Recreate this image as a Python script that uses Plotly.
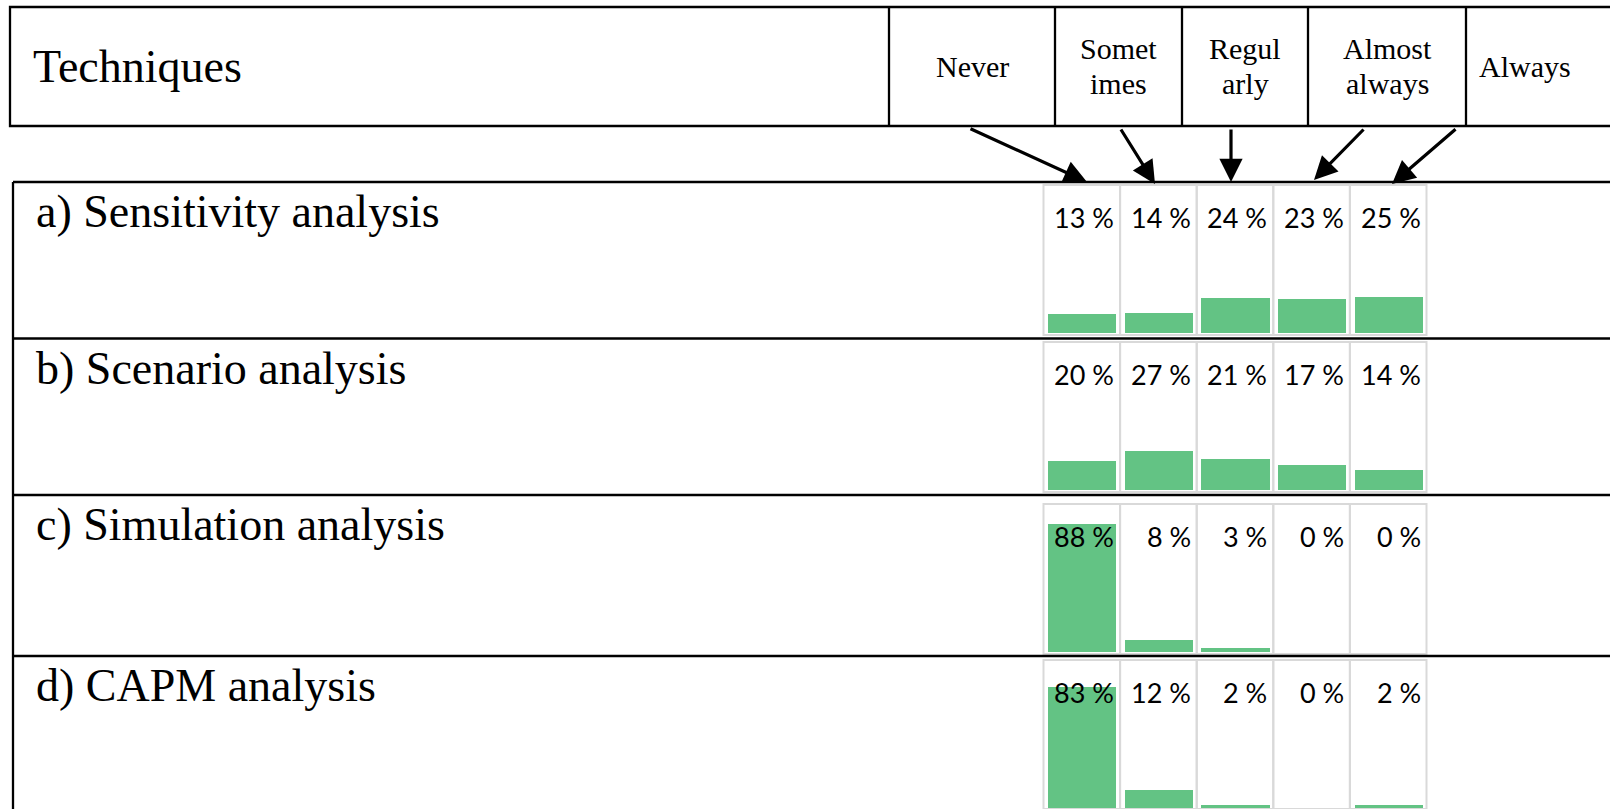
import plotly.graph_objects as go

# ---- data -------------------------------------------------------------
techniques = [
    "a) Sensitivity analysis",
    "b) Scenario analysis",
    "c) Simulation analysis",
    "d) CAPM analysis",
]
frequencies = ["Never", "Sometimes", "Regularly", "Almost always", "Always"]
# header cells wrap the words the way the printed table does
header_lines = [["Never"], ["Somet", "imes"], ["Regul", "arly"], ["Almost", "always"], ["Always"]]

sensitivity = [13, 14, 24, 23, 25]
scenario = [20, 27, 21, 17, 14]
simulation = [88, 8, 3, 0, 0]
capm = [83, 12, 2, 0, 2]
series = [sensitivity, scenario, simulation, capm]

# ---- page geometry (pixels) ------------------------------------------
W, H = 1610, 809
BAR_COLOR = "#63C384"
FRAME_COLOR = "#D9D9D9"
SERIF = "Liberation Serif"
SANS = "Lato"
RULE_W = 2.3

header_top, header_bottom = 7, 126
header_left = 10
header_dividers = [889, 1055, 1182, 1308, 1466]
header_centers = [972, 1118.5, 1245, 1387, 1525]

table_left = 13
row_lines = [182, 338.5, 495, 656]
bar_base = [333, 490, 652, 808]      # pixel row of the 0 % baseline in each row
px_per_pct = 1.46
panel_x0, panel_x1 = 1043.5, 1426.5


def px(x):
    return x / W


def py(y):
    return 1 - y / H


fig = go.Figure()
shapes = []
annotations = []

# ---- mini bar charts, one subplot per technique -------------------------
for i, (name, vals) in enumerate(zip(techniques, series)):
    n = i + 1
    xa = "x" if n == 1 else f"x{n}"
    ya = "y" if n == 1 else f"y{n}"
    base = bar_base[i]
    top_px = base - 148
    bot_px = min(base + 2, H)
    y_lo = -(bot_px - base) / px_per_pct
    y_hi = (base - top_px) / px_per_pct

    fig.add_trace(go.Bar(
        x=frequencies, y=vals, xaxis=xa, yaxis=ya,
        width=0.89, marker=dict(color=BAR_COLOR, line=dict(width=0)),
        hovertemplate="%{x}: %{y} %<extra>" + name + "</extra>",
        showlegend=False,
    ))

    fig.update_layout(**{
        ("xaxis" if n == 1 else f"xaxis{n}"): dict(
            domain=[px(panel_x0), px(panel_x1)], range=[-0.5, 4.5],
            anchor=ya, categoryorder="array", categoryarray=frequencies,
            visible=False, fixedrange=True,
        ),
        ("yaxis" if n == 1 else f"yaxis{n}"): dict(
            domain=[py(bot_px), py(top_px)], range=[y_lo, y_hi],
            anchor=xa, visible=False, fixedrange=True,
        ),
    })

    # light frame around each small panel
    for k in range(len(frequencies)):
        shapes.append(dict(
            type="rect", xref=f"{xa} domain", yref=f"{ya} domain",
            x0=k / 5, x1=(k + 1) / 5, y0=0, y1=1,
            line=dict(color=FRAME_COLOR, width=2), layer="below",
        ))

    # percentage labels, right aligned near the top of each panel
    for k, v in enumerate(vals):
        annotations.append(dict(
            x=k + 0.5, y=1 - 32 / (bot_px - top_px), xref=xa, yref=f"{ya} domain",
            text=f"{v} %", showarrow=False, xanchor="right", yanchor="middle",
            xshift=-4, font=dict(family=SANS, size=27, color="black"),
        ))

    # technique name
    annotations.append(dict(
        x=px(34), y=py(row_lines[i] + 45 - 15.5), xref="paper", yref="paper",
        text=name, showarrow=False, xanchor="left", yanchor="middle",
        font=dict(family=SERIF, size=46, color="black"),
    ))

# ---- header row ---------------------------------------------------------
shapes.append(dict(type="rect", xref="paper", yref="paper",
                   x0=px(header_left), x1=px(W + 10), y0=py(header_top), y1=py(header_bottom),
                   line=dict(color="black", width=RULE_W)))
for xd in header_dividers:
    shapes.append(dict(type="line", xref="paper", yref="paper",
                       x0=px(xd), x1=px(xd), y0=py(header_top), y1=py(header_bottom),
                       line=dict(color="black", width=RULE_W)))

annotations.append(dict(
    x=px(31), y=py(82 - 15.5), xref="paper", yref="paper", text="Techniques",
    showarrow=False, xanchor="left", yanchor="middle",
    font=dict(family=SERIF, size=46, color="black"),
))
for cx, lines in zip(header_centers, header_lines):
    baselines = [77] if len(lines) == 1 else [59, 94]
    for txt, bl in zip(lines, baselines):
        annotations.append(dict(
            x=px(cx), y=py(bl - 10.1), xref="paper", yref="paper", text=txt,
            showarrow=False, xanchor="center", yanchor="middle",
            font=dict(family=SERIF, size=30, color="black"),
        ))

# ---- arrows from header cells down to the panel columns -----------------
arrow_tips = [(1087, 182), (1155, 184), (1231, 182), (1314, 180), (1392, 184)]
arrow_tails = [(969, 128), (1120, 128), (1231, 128), (1365, 128), (1457, 128)]
for (tx, ty), (sx, sy) in zip(arrow_tips, arrow_tails):
    annotations.append(dict(
        x=px(tx), y=py(ty), xref="paper", yref="paper", text="",
        showarrow=True, ax=sx - tx, ay=sy - ty,
        arrowhead=2, arrowsize=1.45, arrowwidth=3.2, arrowcolor="black", standoff=0,
    ))

# ---- table body lines ---------------------------------------------------
shapes.append(dict(type="line", xref="paper", yref="paper",
                   x0=px(table_left), x1=px(table_left), y0=py(row_lines[0]), y1=py(H + 5),
                   line=dict(color="black", width=RULE_W)))
for yl in row_lines:
    shapes.append(dict(type="line", xref="paper", yref="paper",
                       x0=px(table_left), x1=px(W + 10), y0=py(yl), y1=py(yl),
                       line=dict(color="black", width=RULE_W)))

fig.update_layout(
    width=W, height=H,
    margin=dict(l=0, r=0, t=0, b=0),
    paper_bgcolor="white", plot_bgcolor="rgba(0,0,0,0)",
    shapes=shapes, annotations=annotations,
    bargap=0, showlegend=False,
)

fig.write_html("out.html", config={"displayModeBar": False})
